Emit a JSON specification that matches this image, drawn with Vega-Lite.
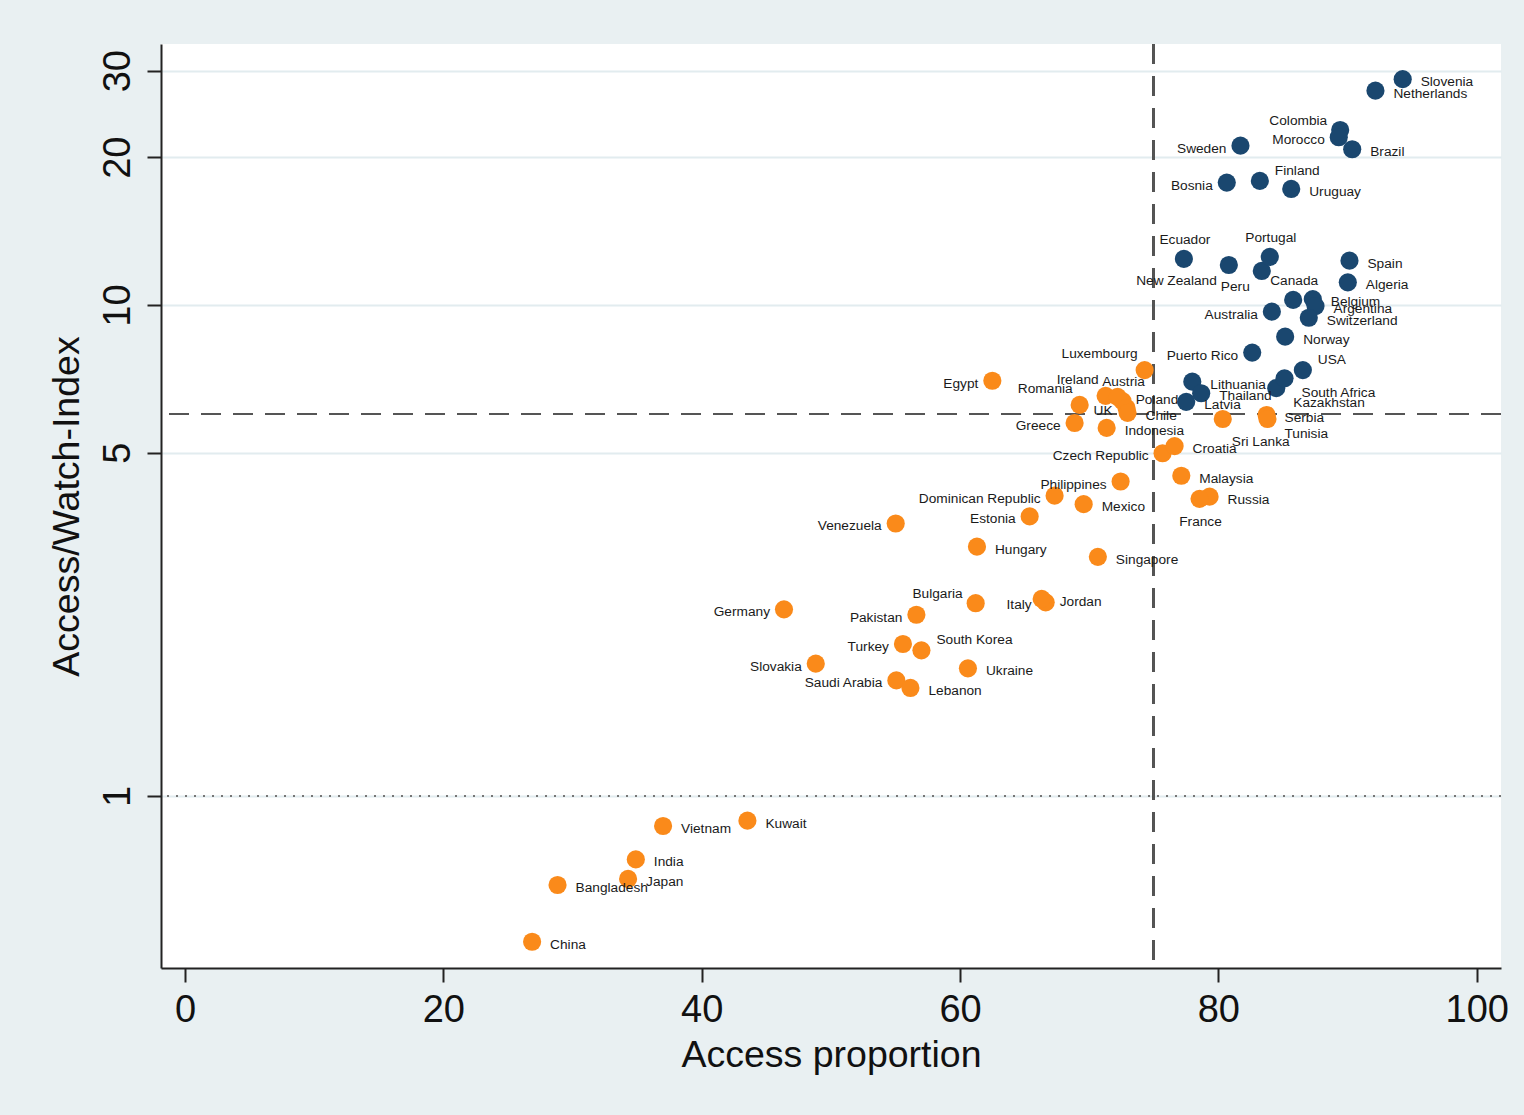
{
  "$schema": "https://vega.github.io/schema/vega-lite/v6.json",
  "width": 1340,
  "height": 924,
  "autosize": {"type": "none"},
  "padding": {"left": 161, "top": 44, "right": 23, "bottom": 147},
  "background": "#e9f0f2",
  "config": {
    "view": {"stroke": null, "fill": "white"},
    "font": "Liberation Sans",
    "axis": {
      "labelFont": "Liberation Sans",
      "titleFont": "Liberation Sans",
      "labelFontSize": 38,
      "titleFontSize": 37.5,
      "titleFontWeight": "normal",
      "labelColor": "#111111",
      "titleColor": "#111111",
      "domainColor": "#222222",
      "domainWidth": 2,
      "tickColor": "#222222",
      "tickWidth": 2,
      "tickSize": 14
    }
  },
  "datasets": {
    "countries": [
      {"country": "Slovenia", "access": 94.27, "index": 28.83, "group": "high"},
      {"country": "Netherlands", "access": 92.16, "index": 27.32, "group": "high"},
      {"country": "Colombia", "access": 89.43, "index": 22.72, "group": "high"},
      {"country": "Morocco", "access": 89.32, "index": 21.96, "group": "high"},
      {"country": "Brazil", "access": 90.36, "index": 20.76, "group": "high"},
      {"country": "Sweden", "access": 81.71, "index": 21.11, "group": "high"},
      {"country": "Bosnia", "access": 80.65, "index": 17.75, "group": "high"},
      {"country": "Finland", "access": 83.21, "index": 17.89, "group": "high"},
      {"country": "Uruguay", "access": 85.64, "index": 17.23, "group": "high"},
      {"country": "Ecuador", "access": 77.33, "index": 12.41, "group": "high"},
      {"country": "New Zealand", "access": 80.81, "index": 12.06, "group": "high"},
      {"country": "Peru", "access": 83.36, "index": 11.73, "group": "high"},
      {"country": "Portugal", "access": 83.98, "index": 12.53, "group": "high"},
      {"country": "Canada", "access": 85.79, "index": 10.24, "group": "high"},
      {"country": "Belgium", "access": 87.31, "index": 10.28, "group": "high"},
      {"country": "Argentina", "access": 87.52, "index": 9.95, "group": "high"},
      {"country": "Switzerland", "access": 87.0, "index": 9.42, "group": "high"},
      {"country": "Australia", "access": 84.14, "index": 9.69, "group": "high"},
      {"country": "Norway", "access": 85.17, "index": 8.62, "group": "high"},
      {"country": "Spain", "access": 90.15, "index": 12.31, "group": "high"},
      {"country": "Algeria", "access": 90.02, "index": 11.12, "group": "high"},
      {"country": "Puerto Rico", "access": 82.62, "index": 8.0, "group": "high"},
      {"country": "USA", "access": 86.54, "index": 7.37, "group": "high"},
      {"country": "Lithuania", "access": 77.98, "index": 6.98, "group": "high"},
      {"country": "Thailand", "access": 78.67, "index": 6.61, "group": "high"},
      {"country": "Latvia", "access": 77.51, "index": 6.35, "group": "high"},
      {"country": "Kazakhstan", "access": 84.48, "index": 6.77, "group": "high"},
      {"country": "South Africa", "access": 85.12, "index": 7.09, "group": "high"},
      {"country": "Luxembourg", "access": 74.29, "index": 7.37, "group": "low"},
      {"country": "Egypt", "access": 62.5, "index": 7.01, "group": "low"},
      {"country": "Ireland", "access": 71.27, "index": 6.53, "group": "low"},
      {"country": "Austria", "access": 72.58, "index": 6.37, "group": "low"},
      {"country": "Poland", "access": 72.2, "index": 6.5, "group": "low"},
      {"country": "UK", "access": 72.89, "index": 6.17, "group": "low"},
      {"country": "Chile", "access": 72.97, "index": 6.03, "group": "low"},
      {"country": "Romania", "access": 69.26, "index": 6.26, "group": "low"},
      {"country": "Greece", "access": 68.87, "index": 5.75, "group": "low"},
      {"country": "Indonesia", "access": 71.35, "index": 5.62, "group": "low"},
      {"country": "Czech Republic", "access": 75.68, "index": 4.99, "group": "low"},
      {"country": "Croatia", "access": 76.61, "index": 5.16, "group": "low"},
      {"country": "Sri Lanka", "access": 80.34, "index": 5.86, "group": "low"},
      {"country": "Serbia", "access": 83.73, "index": 5.97, "group": "low"},
      {"country": "Tunisia", "access": 83.8, "index": 5.86, "group": "low"},
      {"country": "Malaysia", "access": 77.13, "index": 4.49, "group": "low"},
      {"country": "Russia", "access": 79.32, "index": 4.07, "group": "low"},
      {"country": "France", "access": 78.54, "index": 4.03, "group": "low"},
      {"country": "Philippines", "access": 72.43, "index": 4.37, "group": "low"},
      {"country": "Dominican Republic", "access": 67.32, "index": 4.09, "group": "low"},
      {"country": "Mexico", "access": 69.57, "index": 3.93, "group": "low"},
      {"country": "Estonia", "access": 65.39, "index": 3.71, "group": "low"},
      {"country": "Venezuela", "access": 55.02, "index": 3.59, "group": "low"},
      {"country": "Hungary", "access": 61.31, "index": 3.22, "group": "low"},
      {"country": "Singapore", "access": 70.67, "index": 3.07, "group": "low"},
      {"country": "Germany", "access": 46.37, "index": 2.4, "group": "low"},
      {"country": "Bulgaria", "access": 61.21, "index": 2.47, "group": "low"},
      {"country": "Pakistan", "access": 56.62, "index": 2.34, "group": "low"},
      {"country": "Italy", "access": 66.63, "index": 2.48, "group": "low"},
      {"country": "Jordan", "access": 66.32, "index": 2.52, "group": "low"},
      {"country": "Turkey", "access": 55.58, "index": 2.04, "group": "low"},
      {"country": "South Korea", "access": 57.01, "index": 1.98, "group": "low"},
      {"country": "Slovakia", "access": 48.83, "index": 1.86, "group": "low"},
      {"country": "Ukraine", "access": 60.61, "index": 1.82, "group": "low"},
      {"country": "Saudi Arabia", "access": 55.07, "index": 1.72, "group": "low"},
      {"country": "Lebanon", "access": 56.16, "index": 1.66, "group": "low"},
      {"country": "Vietnam", "access": 37.01, "index": 0.869, "group": "low"},
      {"country": "Kuwait", "access": 43.54, "index": 0.891, "group": "low"},
      {"country": "India", "access": 34.9, "index": 0.743, "group": "low"},
      {"country": "Japan", "access": 34.3, "index": 0.678, "group": "low"},
      {"country": "Bangladesh", "access": 28.84, "index": 0.659, "group": "low"},
      {"country": "China", "access": 26.87, "index": 0.505, "group": "low"}
    ]
  },
  "data": {"name": "countries"},
  "encoding": {
    "x": {
      "field": "access",
      "type": "quantitative",
      "title": "Access proportion",
      "scale": {"domain": [-1.86, 101.88], "nice": false, "zero": false},
      "axis": {"values": [0, 20, 40, 60, 80, 100], "grid": false, "labelPadding": 9, "titlePadding": 7}
    },
    "y": {
      "field": "index",
      "type": "quantitative",
      "title": "Access/Watch-Index",
      "scale": {"type": "log", "domain": [0.4465, 34.0], "nice": false},
      "axis": {
        "values": [1, 5, 10, 20, 30],
        "grid": true,
        "gridColor": "#e2ecef",
        "gridWidth": 2,
        "labelAngle": 270,
        "labelAlign": "center",
        "labelBaseline": "bottom",
        "labelPadding": 10,
        "titlePadding": 13
      }
    }
  },
  "layer": [
    {
      "mark": {"type": "rule", "color": "#777777", "strokeWidth": 1.5, "strokeDash": [2, 7]},
      "encoding": {"x": null, "y": {"datum": 1}}
    },
    {
      "mark": {"type": "rule", "color": "#555555", "strokeWidth": 2, "strokeDash": [20, 12]},
      "encoding": {"x": {"datum": 75}, "y": null}
    },
    {
      "mark": {"type": "rule", "color": "#555555", "strokeWidth": 2, "strokeDash": [20, 12]},
      "encoding": {"x": null, "y": {"datum": 6}}
    },
    {
      "mark": {"type": "circle", "size": 330, "opacity": 1},
      "encoding": {
        "color": {
          "field": "group",
          "type": "nominal",
          "scale": {"domain": ["high", "low"], "range": ["#1a476f", "#fa8a1a"]},
          "legend": null
        }
      }
    },
    {
      "transform": [{"filter": {"field": "country", "oneOf": ["Slovenia", "Netherlands", "Brazil", "Uruguay", "Spain", "Algeria", "Belgium", "Argentina", "Switzerland", "Norway", "Lithuania", "Thailand", "Latvia", "Poland", "Chile", "Indonesia", "Croatia", "Serbia", "Malaysia", "Russia", "Mexico", "Hungary", "Singapore", "Jordan", "Ukraine", "Lebanon", "Vietnam", "Kuwait", "India", "Japan", "Bangladesh", "China"]}}],
      "mark": {"type": "text", "align": "left", "baseline": "middle", "dx": 18, "dy": 3, "fontSize": 13.7, "color": "#1a1a1a"},
      "encoding": {"text": {"field": "country"}}
    },
    {
      "transform": [{"filter": {"field": "country", "oneOf": ["Sweden", "Bosnia", "Morocco", "Australia", "Puerto Rico", "Egypt", "UK", "Greece", "Czech Republic", "Philippines", "Dominican Republic", "Estonia", "Venezuela", "Germany", "Pakistan", "Italy", "Turkey", "Slovakia", "Saudi Arabia"]}}],
      "mark": {"type": "text", "align": "right", "baseline": "middle", "dx": -14, "dy": 3, "fontSize": 13.7, "color": "#1a1a1a"},
      "encoding": {"text": {"field": "country"}}
    },
    {
      "transform": [{"filter": {"field": "country", "oneOf": ["Ecuador", "Portugal", "Canada", "Austria"]}}],
      "mark": {"type": "text", "align": "center", "baseline": "middle", "dx": 1, "dy": -19, "fontSize": 13.7, "color": "#1a1a1a"},
      "encoding": {"text": {"field": "country"}}
    },
    {
      "transform": [{"filter": {"field": "country", "oneOf": ["France"]}}],
      "mark": {"type": "text", "align": "center", "baseline": "middle", "dx": 1, "dy": 23, "fontSize": 13.7, "color": "#1a1a1a"},
      "encoding": {"text": {"field": "country"}}
    },
    {
      "transform": [{"filter": {"field": "country", "oneOf": ["Finland", "USA", "South Korea"]}}],
      "mark": {"type": "text", "align": "left", "baseline": "middle", "dx": 15, "dy": -10, "fontSize": 13.7, "color": "#1a1a1a"},
      "encoding": {"text": {"field": "country"}}
    },
    {
      "transform": [{"filter": {"field": "country", "oneOf": ["South Africa", "Kazakhstan", "Tunisia"]}}],
      "mark": {"type": "text", "align": "left", "baseline": "middle", "dx": 17, "dy": 15, "fontSize": 13.7, "color": "#1a1a1a"},
      "encoding": {"text": {"field": "country"}}
    },
    {
      "transform": [{"filter": {"field": "country", "oneOf": ["Sri Lanka"]}}],
      "mark": {"type": "text", "align": "left", "baseline": "middle", "dx": 9, "dy": 23, "fontSize": 13.7, "color": "#1a1a1a"},
      "encoding": {"text": {"field": "country"}}
    },
    {
      "transform": [{"filter": {"field": "country", "oneOf": ["Peru", "New Zealand"]}}],
      "mark": {"type": "text", "align": "right", "baseline": "middle", "dx": -12, "dy": 16, "fontSize": 13.7, "color": "#1a1a1a"},
      "encoding": {"text": {"field": "country"}}
    },
    {
      "transform": [{"filter": {"field": "country", "oneOf": ["Colombia", "Bulgaria"]}}],
      "mark": {"type": "text", "align": "right", "baseline": "middle", "dx": -13, "dy": -9, "fontSize": 13.7, "color": "#1a1a1a"},
      "encoding": {"text": {"field": "country"}}
    },
    {
      "transform": [{"filter": {"field": "country", "oneOf": ["Romania", "Ireland", "Luxembourg"]}}],
      "mark": {"type": "text", "align": "right", "baseline": "middle", "dx": -7, "dy": -16, "fontSize": 13.7, "color": "#1a1a1a"},
      "encoding": {"text": {"field": "country"}}
    }
  ]
}
